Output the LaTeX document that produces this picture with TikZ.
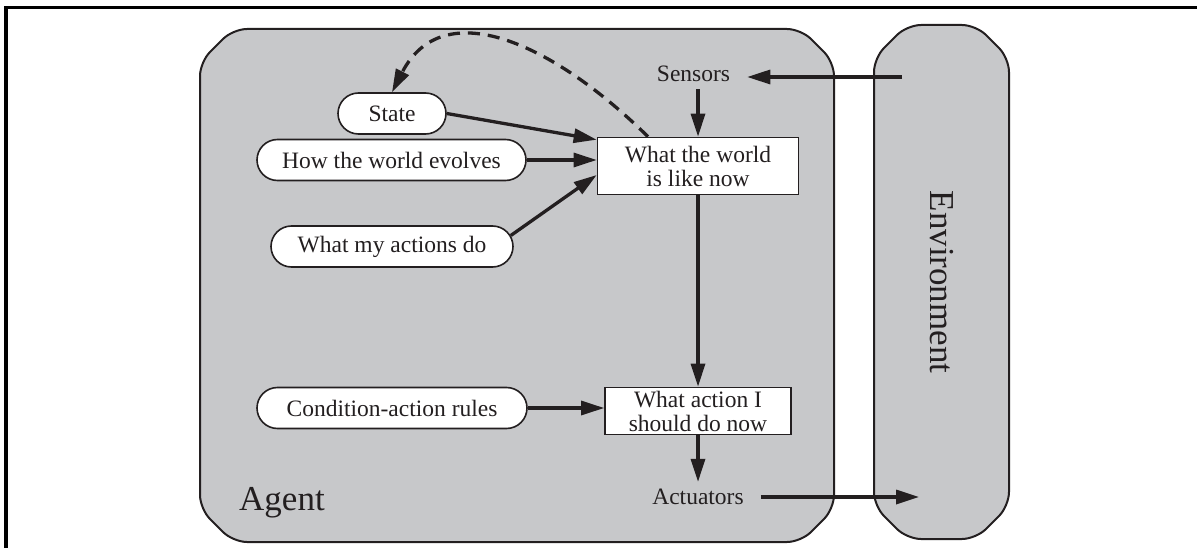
\documentclass[tikz,border=0pt]{standalone}
\usepackage{fontspec}
\setmainfont{Liberation Serif}
\usetikzlibrary{arrows.meta,shapes.misc,calc}
\definecolor{agentgray}{RGB}{199,200,202}
\definecolor{ink}{RGB}{35,31,32}
\begin{document}
\begin{tikzpicture}[x=1pt,y=-1pt,
  every node/.style={font=\fontsize{23.5}{24}\selectfont, text=ink},
  panel/.style={fill=agentgray, draw=ink, line width=2pt, rounded corners=14pt},
  pill/.style={rounded rectangle, draw=ink, fill=white, line width=1.6pt, minimum height=41pt, inner sep=0pt},
  procbox/.style={rectangle, draw=ink, fill=white, line width=1.6pt, align=center, inner sep=0pt},
  lbl/.style={inner xsep=17pt, inner ysep=7pt},
  big/.style={font=\fontsize{35}{38}\selectfont},
  arr/.style={draw=ink, line width=3.3pt, -{Triangle[length=23pt,width=14pt]}},
  dasharr/.style={arr, dash pattern=on 12pt off 8pt}
]
\useasboundingbox (0,0) rectangle (1197,548);
% outer frame (only top and left visible)
\draw[line width=3.4pt, black] (6,548) -- (6,7.5) -- (1197,7.5);
% agent panel
\draw[panel] (200,62) -- (233,29) -- (801,29) -- (834,62) -- (834,509) -- (801,542) -- (233,542) -- (200,509) -- cycle;
% environment panel
\draw[panel] (874,58) -- (907,25) -- (976,25) -- (1009,58) -- (1009,506) -- (976,539) -- (907,539) -- (874,506) -- cycle;

\node[big, rotate=-90, anchor=base, inner sep=0pt] (envlbl) at (930,282) {Environment};
\node[big, anchor=base west, inner sep=0pt] (agentlbl) at (239,510) {Agent};

\node[pill, minimum width=108pt] (state) at (392,113.5) {State};
\node[pill, minimum width=269pt] (evolves) at (391.5,160) {How the world evolves};
\node[pill, minimum width=242pt] (actions) at (392,246.5) {What my actions do};
\node[pill, minimum width=270pt] (rules) at (392,408) {Condition-action rules};
\node[procbox, minimum width=201pt, minimum height=57pt] (world) at (698,166) {What the world\\is like now};
\node[procbox, minimum width=186pt, minimum height=47pt] (decide) at (698,411) {What action I\\should do now};

\node[lbl] (sensors) at (693.5,74) {Sensors};
\node[lbl] (actuators) at (698,497) {Actuators};

\coordinate (envin) at (902,77);
\coordinate (envout) at (919,497);

\draw[arr] (envin) -- (sensors.east |- envin);
\draw[arr] (sensors.south -| world) -- (world.north);
\draw[arr] (world) -- (decide);
\draw[arr] (decide) -- (actuators);
\draw[arr] (actuators.east) -- (envout);
\draw[arr] (state.east) -- ([yshift=-3pt]world.north west);
\draw[arr] (evolves.east) -- (evolves.east -| world.west);
\draw[arr] ([shift={(-3pt,11pt)}]actions.east) -- ([yshift=-9pt]world.west);
\draw[arr] (rules.east) -- (rules.east -| decide.west);
\draw[dasharr] ([xshift=-50pt]world.north) .. controls (553,43) and (443,-7) .. (state.north);
\end{tikzpicture}
\end{document}
